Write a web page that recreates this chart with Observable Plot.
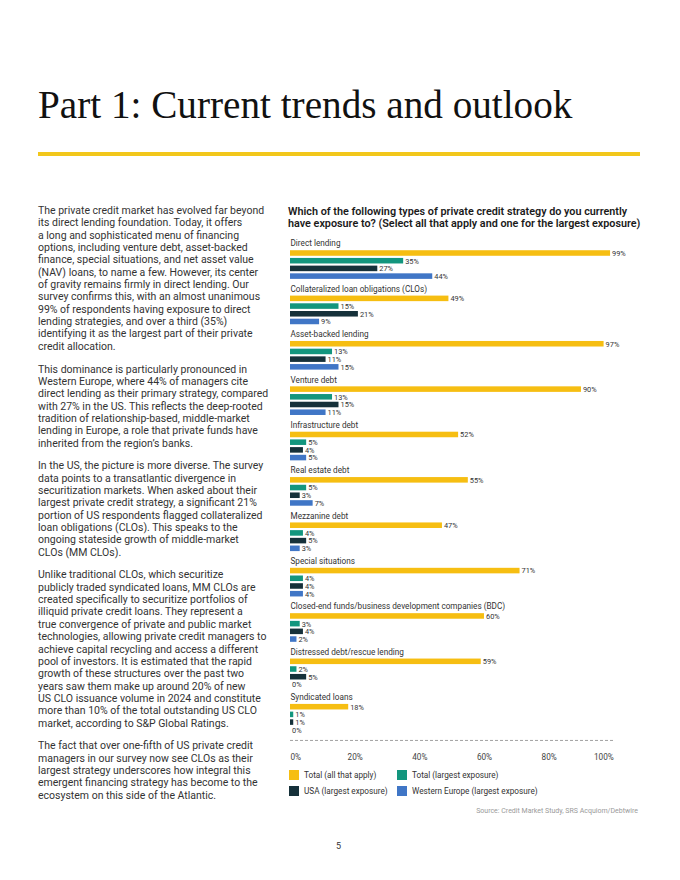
<!DOCTYPE html>
<html>
<head>
<meta charset="utf-8">
<script src="https://cdn.jsdelivr.net/npm/d3@7"></script>
<script src="https://cdn.jsdelivr.net/npm/@observablehq/plot@0.6"></script>
<style>
  html, body { margin: 0; padding: 0; background: #fff; }
  body { width: 680px; height: 880px; position: relative; overflow: hidden; font-family: Roboto, "Noto Sans", sans-serif; color: #2e2e2e; }
  .title { position: absolute; left: 38px; top: 85px; font-family: "Liberation Serif", "DejaVu Serif", serif; font-size: 39.2px; line-height: 39px; color: #111; white-space: nowrap; }
  .rule { position: absolute; left: 38px; top: 152px; width: 602px; height: 3.5px; background: #F2C71B; }
  .body { position: absolute; left: 38px; top: 205px; width: 245px; font-size: 10.5px; line-height: 12.35px; white-space: nowrap; color: #333; }
  .body p { margin: 0 0 10.4px 0; }
  .ctitle { position: absolute; left: 288px; top: 206px; font-size: 10.8px; line-height: 11.7px; font-weight: 600; color: #1a1a1a; white-space: nowrap; }
  #chart { position: absolute; left: 280px; top: 232px; }
  .legend { position: absolute; left: 289px; top: 770px; font-size: 8.2px; color: #333; }
  .legend .item { position: absolute; white-space: nowrap; display: flex; align-items: center; }
  .legend .sw { width: 10px; height: 10px; margin-right: 5px; display: inline-block; }
  .source { position: absolute; right: 42px; top: 807px; font-size: 7px; color: #9a9a9a; white-space: nowrap; }
  .page { position: absolute; left: 336px; top: 841px; font-size: 9px; color: #333; }
</style>
</head>
<body>
<div class="title">Part 1: Current trends and outlook</div>
<div class="rule"></div>
<div class="body">
<p>The private credit market has evolved far beyond<br>its direct lending foundation. Today, it offers<br>a long and sophisticated menu of financing<br>options, including venture debt, asset-backed<br>finance, special situations, and net asset value<br>(NAV) loans, to name a few. However, its center<br>of gravity remains firmly in direct lending. Our<br>survey confirms this, with an almost unanimous<br>99% of respondents having exposure to direct<br>lending strategies, and over a third (35%)<br>identifying it as the largest part of their private<br>credit allocation.</p>
<p>This dominance is particularly pronounced in<br>Western Europe, where 44% of managers cite<br>direct lending as their primary strategy, compared<br>with 27% in the US. This reflects the deep-rooted<br>tradition of relationship-based, middle-market<br>lending in Europe, a role that private funds have<br>inherited from the region’s banks.</p>
<p>In the US, the picture is more diverse. The survey<br>data points to a transatlantic divergence in<br>securitization markets. When asked about their<br>largest private credit strategy, a significant 21%<br>portion of US respondents flagged collateralized<br>loan obligations (CLOs). This speaks to the<br>ongoing stateside growth of middle-market<br>CLOs (MM CLOs).</p>
<p>Unlike traditional CLOs, which securitize<br>publicly traded syndicated loans, MM CLOs are<br>created specifically to securitize portfolios of<br>illiquid private credit loans. They represent a<br>true convergence of private and public market<br>technologies, allowing private credit managers to<br>achieve capital recycling and access a different<br>pool of investors. It is estimated that the rapid<br>growth of these structures over the past two<br>years saw them make up around 20% of new<br>US CLO issuance volume in 2024 and constitute<br>more than 10% of the total outstanding US CLO<br>market, according to S&amp;P Global Ratings.</p>
<p>The fact that over one-fifth of US private credit<br>managers in our survey now see CLOs as their<br>largest strategy underscores how integral this<br>emergent financing strategy has become to the<br>ecosystem on this side of the Atlantic.</p>
</div>
<div class="ctitle">Which of the following types of private credit strategy do you currently<br>have exposure to? (Select all that apply and one for the largest exposure)</div>
<div id="chart"></div>
<div class="legend" id="legend"></div>
<div class="source">Source: Credit Market Study, SRS Acquiom/Debtwire</div>
<div class="page">5</div>
<script>
// ---- Data ----
const categories = [
  "Direct lending",
  "Collateralized loan obligations (CLOs)",
  "Asset-backed lending",
  "Venture debt",
  "Infrastructure debt",
  "Real estate debt",
  "Mezzanine debt",
  "Special situations",
  "Closed-end funds/business development companies (BDC)",
  "Distressed debt/rescue lending",
  "Syndicated loans"
];
const totalAllThatApply = [99, 49, 97, 90, 52, 55, 47, 71, 60, 59, 18];
const totalLargest      = [35, 15, 13, 13, 5, 5, 4, 4, 3, 2, 1];
const usaLargest        = [27, 21, 11, 15, 4, 3, 5, 4, 4, 5, 1];
const westernEurope     = [44, 9, 15, 11, 5, 7, 3, 4, 2, 0, 0];
const seriesNames = ["Total (all that apply)", "Total (largest exposure)", "USA (largest exposure)", "Western Europe (largest exposure)"];
const seriesColors = ["#F6BE12", "#13967E", "#16313A", "#4076C6"];
const xTicks = [0, 20, 40, 60, 80, 100];

// ---- Layout helpers (row units) ----
const GROUP = 5.892;      // rows per category block
const FIRST_BAR = 1.26;   // first bar offset below the category label
const BAR_H = 0.72;
const seriesValues = [totalAllThatApply, totalLargest, usaLargest, westernEurope];

const rows = categories.flatMap((cat, g) =>
  seriesValues.map((vals, i) => ({
    cat, g, i,
    series: seriesNames[i],
    value: vals[g],
    pos: g * GROUP + FIRST_BAR + i
  }))
);
const labels = categories.map((cat, g) => ({cat, pos: g * GROUP}));
const axisPos = (categories.length - 1) * GROUP + FIRST_BAR + 3 + 1.32;
const tickPos = axisPos + 2.2;

const font = "Roboto, 'Noto Sans', sans-serif";
const FS = 8.2;
const chart = Plot.plot({
  width: 360,
  height: 540,
  margin: 0,
  style: {fontFamily: font, background: "transparent", overflow: "visible"},
  x: {domain: [0, 100], range: [10, 333.3], axis: null},
  y: {domain: [0, 10], range: [11.3, 88.3], axis: null},
  color: {domain: seriesNames, range: seriesColors},
  marks: [
    Plot.rect(rows, {x1: 0, x2: "value", y1: d => d.pos - BAR_H / 2, y2: d => d.pos + BAR_H / 2, fill: "series"}),
    Plot.text(rows, {x: "value", y: "pos", text: d => d.value + "%", dx: 1.5, textAnchor: "start", fontSize: 7.4, fill: "#333"}),
    Plot.text(labels, {x: 0, y: "pos", text: "cat", textAnchor: "start", fontSize: FS, fill: "#333"}),
    Plot.ruleY([axisPos], {x1: 0, x2: 100, stroke: "#8a8a8a", strokeWidth: 0.8, strokeDasharray: "3,2"}),
    Plot.text(xTicks.filter(t => t === xTicks[0]), {x: d => d, y: tickPos, text: d => d + "%", textAnchor: "start", fontSize: FS, fill: "#444"}),
    Plot.text(xTicks.filter(t => t !== xTicks[0] && t !== xTicks[xTicks.length - 1]), {x: d => d, y: tickPos, text: d => d + "%", textAnchor: "middle", fontSize: FS, fill: "#444"}),
    Plot.text(xTicks.filter(t => t === xTicks[xTicks.length - 1]), {x: d => d, y: tickPos, text: d => d + "%", textAnchor: "end", fontSize: FS, fill: "#444"})
  ]
});
document.getElementById("chart").appendChild(chart);

// ---- Legend ----
const legendPos = [[0, 0], [108, 0], [0, 16], [108, 16]];
const legend = document.getElementById("legend");
seriesNames.forEach((name, i) => {
  const item = document.createElement("div");
  item.className = "item";
  item.style.left = legendPos[i][0] + "px";
  item.style.top = legendPos[i][1] + "px";
  const sw = document.createElement("span");
  sw.className = "sw";
  sw.style.background = seriesColors[i];
  item.appendChild(sw);
  item.appendChild(document.createTextNode(name));
  legend.appendChild(item);
});
</script>
</body>
</html>
